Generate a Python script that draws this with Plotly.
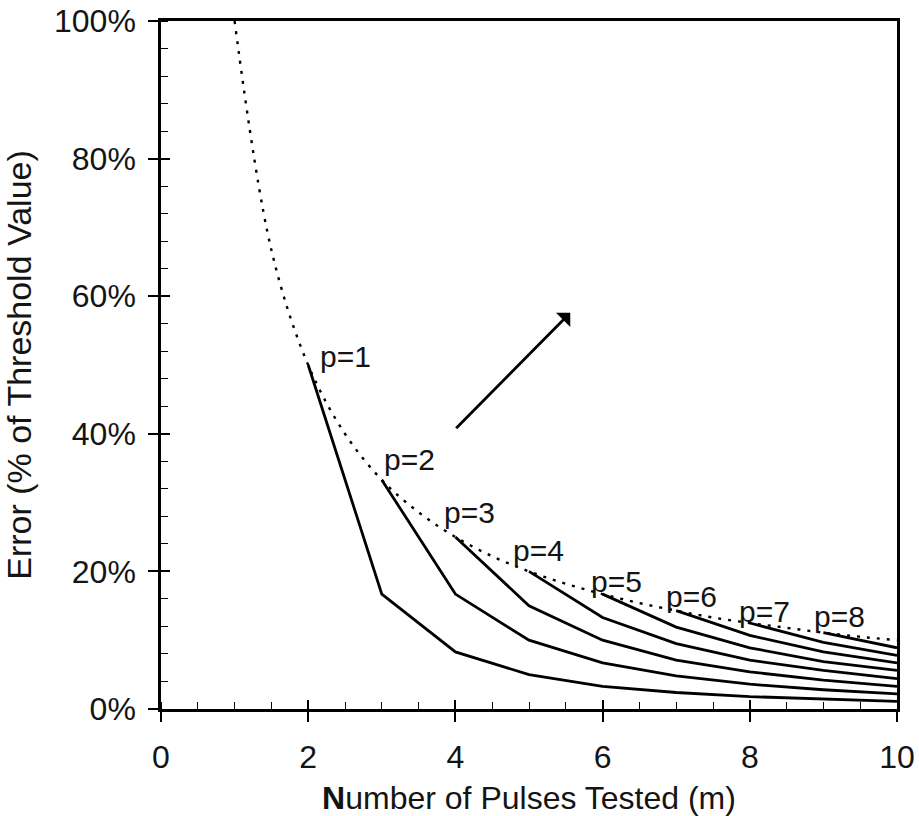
import plotly.graph_objects as go

# Dotted envelope (m = 1 .. 10 in half steps), error in %
env_m = [1, 1.5, 2, 2.5, 3, 3.5, 4, 4.5, 5, 5.5, 6, 6.5, 7, 7.5, 8, 8.5, 9, 9.5, 10]
env_err = [100, 66.7, 50, 40, 33.3, 28.6, 25, 22.2, 20, 18.2, 16.7, 15.4, 14.3, 13.3, 12.5, 11.8, 11.1, 10.5, 10]

# Solid curves for p = 1..8, each starting at m = p + 1 and running to m = 10
p1_m = [2, 3, 4, 5, 6, 7, 8, 9, 10]
p1_err = [50.0, 16.7, 8.3, 5.0, 3.3, 2.4, 1.8, 1.4, 1.1]
p2_m = [3, 4, 5, 6, 7, 8, 9, 10]
p2_err = [33.3, 16.7, 10.0, 6.7, 4.8, 3.6, 2.8, 2.2]
p3_m = [4, 5, 6, 7, 8, 9, 10]
p3_err = [25.0, 15.0, 10.0, 7.1, 5.4, 4.2, 3.3]
p4_m = [5, 6, 7, 8, 9, 10]
p4_err = [20.0, 13.3, 9.5, 7.1, 5.6, 4.4]
p5_m = [6, 7, 8, 9, 10]
p5_err = [16.7, 11.9, 8.9, 6.9, 5.6]
p6_m = [7, 8, 9, 10]
p6_err = [14.3, 10.7, 8.3, 6.7]
p7_m = [8, 9, 10]
p7_err = [12.5, 9.7, 7.8]
p8_m = [9, 10]
p8_err = [11.1, 8.9]

curves = [(p1_m, p1_err), (p2_m, p2_err), (p3_m, p3_err), (p4_m, p4_err),
          (p5_m, p5_err), (p6_m, p6_err), (p7_m, p7_err), (p8_m, p8_err)]

# Label text and anchor positions (data coords)
label_text = ["p=1", "p=2", "p=3", "p=4", "p=5", "p=6", "p=7", "p=8"]
label_x = [2.13, 3.0, 3.82, 4.76, 5.82, 6.84, 7.83, 8.85]
label_y = [51.2, 36.2, 28.5, 23.1, 18.5, 16.3, 14.1, 13.4]

# Arrow (tail -> head)
arrow_tail = (3.99, 40.6)
arrow_head = (5.56, 57.6)

x_ticks = [0, 2, 4, 6, 8, 10]
y_ticks = [0, 20, 40, 60, 80, 100]
y_ticklabels = ["0%", "20%", "40%", "60%", "80%", "100%"]

FONT = "Liberation Sans, Arial, sans-serif"
TXT = "#141414"

fig = go.Figure()

fig.add_trace(go.Scatter(x=env_m, y=env_err, mode="lines",
                         line=dict(color="black", width=2.4, dash="3px,7px", shape="spline"),
                         hoverinfo="skip", showlegend=False))
for mm, ee in curves:
    fig.add_trace(go.Scatter(x=mm, y=ee, mode="lines",
                             line=dict(color="black", width=2.8),
                             showlegend=False))

# invisible trace for overlay axes (inner half of the crossing major ticks)
fig.add_trace(go.Scatter(x=[None], y=[None], xaxis="x2", yaxis="y2",
                         showlegend=False, hoverinfo="skip"))

for t, xx, yy in zip(label_text, label_x, label_y):
    fig.add_annotation(x=xx, y=yy, text=t, showarrow=False, xanchor="left",
                       yanchor="middle", font=dict(family=FONT, size=30, color=TXT))

fig.add_annotation(x=arrow_head[0], y=arrow_head[1], ax=arrow_tail[0], ay=arrow_tail[1],
                   xref="x", yref="y", axref="x", ayref="y", text="",
                   showarrow=True, arrowhead=1, arrowsize=1.2, arrowwidth=2.8,
                   arrowcolor="black")

fig.update_layout(
    width=919, height=816,
    margin=dict(l=161, r=22, t=21, b=107),
    paper_bgcolor="white", plot_bgcolor="white",
    font=dict(family=FONT, color=TXT),
    xaxis=dict(range=[0, 10], tickvals=x_ticks, ticks="outside", ticklen=10,
               tickwidth=1.5, tickcolor="black", showgrid=False, zeroline=False,
               showline=True, linecolor="black", linewidth=2.5, mirror=True,
               automargin=False, ticklabelstandoff=8,
               tickfont=dict(size=32, family=FONT, color=TXT),
               minor=dict(dtick=0.5, ticks="inside", ticklen=7, tickwidth=1.2,
                          tickcolor="black", showgrid=False),
               title=dict(text="<b>N</b>umber of Pulses Tested (m)",
                          font=dict(size=32, family=FONT, color=TXT), standoff=16)),
    yaxis=dict(range=[0, 100], tickvals=y_ticks, ticktext=y_ticklabels, ticks="outside",
               ticklen=10, tickwidth=1.5, tickcolor="black", showgrid=False,
               zeroline=False, showline=True, linecolor="black", linewidth=2.5,
               mirror=True, automargin=False, ticklabelstandoff=6,
               tickfont=dict(size=32, family=FONT, color=TXT),
               minor=dict(dtick=4, ticks="inside", ticklen=7, tickwidth=1.2,
                          tickcolor="black", showgrid=False),
               title=dict(text="Error (% of Threshold Value)",
                          font=dict(size=34, family=FONT, color=TXT), standoff=16)),
    xaxis2=dict(overlaying="x", matches="x", anchor="y2", side="bottom",
                tickvals=x_ticks, ticks="inside", ticklen=9, tickwidth=1.5,
                tickcolor="black", showticklabels=False, showgrid=False,
                zeroline=False, showline=False, automargin=False),
    yaxis2=dict(overlaying="y", matches="y", anchor="x2", side="left",
                tickvals=y_ticks, ticks="inside", ticklen=9, tickwidth=1.5,
                tickcolor="black", showticklabels=False, showgrid=False,
                zeroline=False, showline=False, automargin=False),
    showlegend=False,
)

fig.write_html("out.html")
